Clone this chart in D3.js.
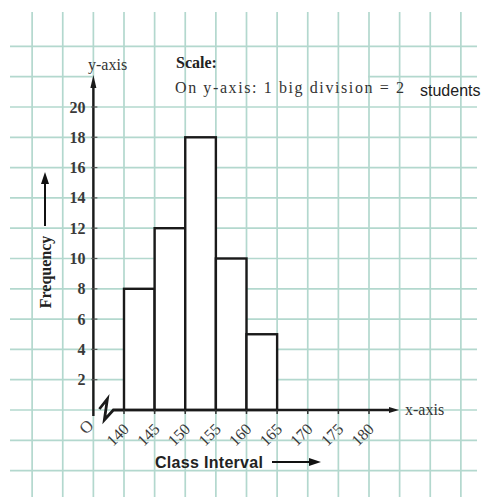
<!DOCTYPE html>
<html>
<head>
<meta charset="utf-8">
<script src="https://cdn.jsdelivr.net/npm/d3@7"></script>
<style>
  html, body { margin: 0; padding: 0; background: #fff; }
  svg { display: block; }
</style>
</head>
<body>
<svg id="chart" width="486" height="497"></svg>
<script>
// ---- data ----
const classStarts = [140, 145, 150, 155, 160];
const classEnds   = [145, 150, 155, 160, 165];
const frequencies = [8, 12, 18, 10, 5];
const xTickLabels = [140, 145, 150, 155, 160, 165, 170, 175, 180];
const yTickLabels = [2, 4, 6, 8, 10, 12, 14, 16, 18, 20];

const svg = d3.select("#chart");
const x = d3.scaleLinear().domain([140, 180]).range([124, 369]);
const y = d3.scaleLinear().domain([0, 20]).range([410, 107]);

const gridColor = "#b3d8ce";
const serif = "'Liberation Serif', 'Times New Roman', serif";
const sans = "'Liberation Sans', Arial, sans-serif";

// ---- graph paper grid ----
const grid = svg.append("g");
const vLines = d3.range(125, 196, 5);
grid.selectAll("line.v").data(vLines).join("line")
  .attr("x1", d => x(d)).attr("x2", d => x(d))
  .attr("y1", 12).attr("y2", 497)
  .attr("stroke", gridColor).attr("stroke-width", 1.7);
const hLines = d3.range(-4, 25, 2);
hLines.forEach(v => {
  const segs = v === 22 ? [[10, 93], [368, 477]] : [[10, 477]];
  segs.forEach(s => {
    grid.append("line")
      .attr("x1", s[0]).attr("x2", s[1])
      .attr("y1", y(v)).attr("y2", y(v))
      .attr("stroke", gridColor).attr("stroke-width", 1.7);
  });
});

// ---- bars ----
svg.append("g").selectAll("rect").data(frequencies).join("rect")
  .attr("x", (d, i) => x(classStarts[i]))
  .attr("y", d => y(d))
  .attr("width", (d, i) => x(classEnds[i]) - x(classStarts[i]))
  .attr("height", d => y(0) - y(d))
  .attr("fill", "#fff")
  .attr("stroke", "#1a1a1a")
  .attr("stroke-width", 2.4);

// ---- y axis ----
const ax = svg.append("g").attr("stroke", "#1a1a1a");
const x0 = x(135);
ax.append("line").attr("x1", x0).attr("x2", x0).attr("y1", y(0) + 6).attr("y2", 86).attr("stroke-width", 2.4);
ax.append("path").attr("d", `M${x0},75 L${x0 + 3},88 L${x0 - 3},88 Z`).attr("fill", "#1a1a1a").attr("stroke", "none");
svg.append("g").selectAll("line").data(yTickLabels).join("line")
  .attr("x1", x0 - 2).attr("x2", x0 + 4)
  .attr("y1", d => y(d)).attr("y2", d => y(d))
  .attr("stroke", "#555").attr("stroke-width", 1.2);
svg.append("g").selectAll("text").data(yTickLabels).join("text")
  .attr("x", x0 - 8).attr("y", d => y(d) + 5.5)
  .attr("text-anchor", "end")
  .attr("font-family", serif).attr("font-size", 16).attr("font-weight", "bold")
  .attr("fill", "#3a3a3a")
  .text(d => d);

// ---- x axis ----
ax.append("line").attr("x1", x(140)).attr("x2", 392).attr("y1", y(0)).attr("y2", y(0)).attr("stroke-width", 2.4);
ax.append("path").attr("d", `M399,${y(0)} L389,${y(0) - 3} L389,${y(0) + 3} Z`).attr("fill", "#1a1a1a").attr("stroke", "none");
// zig-zag break
ax.append("path")
  .attr("d", `M${x0 + 6},409 L${x0 + 14},399 L${x0 + 11},420 L${x0 + 20},410 L${x(140)},${y(0)}`)
  .attr("fill", "none").attr("stroke-width", 2.8).attr("stroke-linejoin", "miter");
svg.append("g").selectAll("line").data(xTickLabels).join("line")
  .attr("x1", d => x(d)).attr("x2", d => x(d))
  .attr("y1", y(0)).attr("y2", y(0) + 4)
  .attr("stroke", "#333").attr("stroke-width", 1.5);
svg.append("g").selectAll("text").data(xTickLabels).join("text")
  .attr("transform", d => `translate(${x(d) + 6},${y(0) + 20}) rotate(-45)`)
  .attr("text-anchor", "end")
  .attr("font-family", serif).attr("font-size", 16)
  .attr("fill", "#3a3a3a")
  .text(d => d);
svg.append("text")
  .attr("transform", `translate(${x0 - 3},${y(0) + 21}) rotate(-45)`)
  .attr("text-anchor", "middle")
  .attr("font-family", serif).attr("font-size", 17)
  .attr("fill", "#444").text("O");

// ---- labels ----
svg.append("text").attr("x", 88).attr("y", 70)
  .attr("font-family", serif).attr("font-size", 16).attr("fill", "#333").text("y-axis");
svg.append("text").attr("x", 405).attr("y", 415)
  .attr("font-family", serif).attr("font-size", 16).attr("fill", "#333").text("x-axis");
svg.append("text").attr("x", 176).attr("y", 68)
  .attr("font-family", serif).attr("font-size", 16).attr("font-weight", "bold").attr("fill", "#222").text("Scale:");
svg.append("text").attr("x", 175).attr("y", 93)
  .attr("font-family", serif).attr("font-size", 16).attr("fill", "#333")
  .style("letter-spacing", "1.6px")
  .text("On y-axis: 1 big division = 2");
svg.append("text").attr("x", 420).attr("y", 96)
  .attr("font-family", sans).attr("font-size", 16).attr("fill", "#222").text("students");

// Frequency label with arrow
svg.append("text")
  .attr("transform", "translate(51,272) rotate(-90)")
  .attr("text-anchor", "middle")
  .attr("font-family", serif).attr("font-size", 16).attr("font-weight", "bold").attr("fill", "#222")
  .text("Frequency");
svg.append("line").attr("x1", 45).attr("x2", 45).attr("y1", 226).attr("y2", 182)
  .attr("stroke", "#111").attr("stroke-width", 2);
svg.append("path").attr("d", "M45,172 L49,184 L41,184 Z").attr("fill", "#111");

// Class Interval label with arrow
svg.append("text").attr("x", 155).attr("y", 468)
  .attr("font-family", sans).attr("font-size", 16).attr("font-weight", "bold").attr("fill", "#222")
  .style("letter-spacing", "0.3px")
  .text("Class Interval");
svg.append("line").attr("x1", 272).attr("x2", 310).attr("y1", 462).attr("y2", 462)
  .attr("stroke", "#111").attr("stroke-width", 2);
svg.append("path").attr("d", "M321,462 L309,458 L309,466 Z").attr("fill", "#111");
</script>
</body>
</html>
